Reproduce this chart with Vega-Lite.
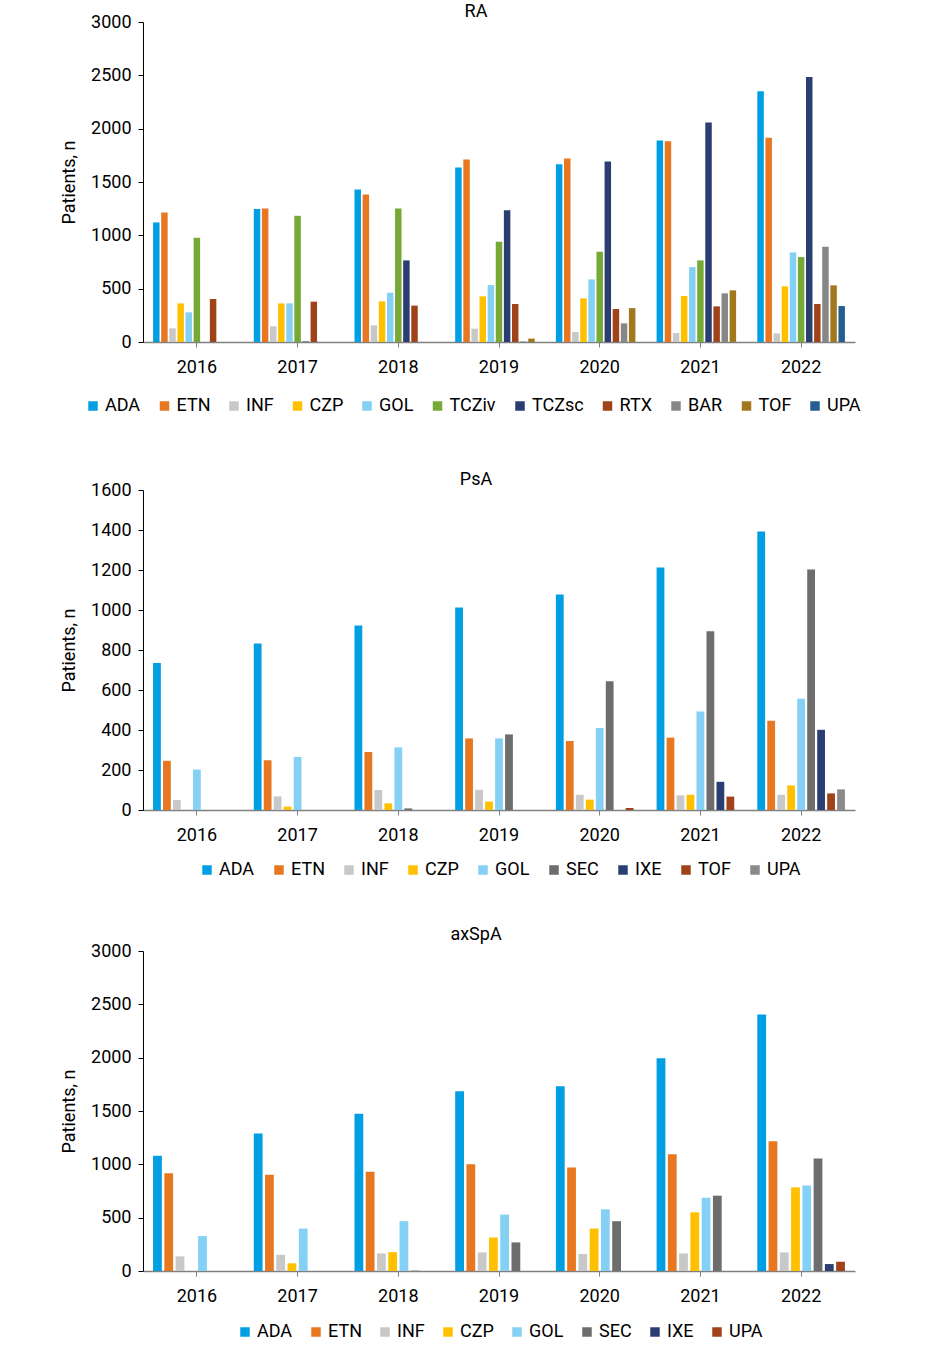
{
  "$schema": "https://vega.github.io/schema/vega-lite/v6.json",
  "background": "white",
  "padding": {"left": 60, "top": 3, "right": 5, "bottom": 5},
  "spacing": 148,
  "bounds": "flush",
  "config": {
    "font": "Roboto",
    "view": {"stroke": null},
    "axis": {"labelFont": "Roboto", "labelFontSize": 18, "labelColor": "#000", "titleFont": "Roboto", "titleFontSize": 18, "titleFontWeight": "normal", "titleColor": "#000", "grid": false},
    "axisX": {"domainColor": "#808080", "domainWidth": 1.5, "tickColor": "#808080", "tickSize": 5, "labelPadding": 11, "labelAngle": 0},
    "axisY": {"domainColor": "#000", "domainWidth": 1, "tickColor": "#000", "tickSize": 5, "labelPadding": 7, "titlePadding": 12, "format": "d"},
    "legend": {"labelFont": "Roboto", "labelFontSize": 18, "labelColor": "#000", "symbolType": "square", "symbolSize": 90, "symbolStrokeWidth": 0, "labelOffset": 3, "columnPadding": 15, "padding": 0, "direction": "horizontal"},
    "title": {"font": "Roboto", "fontSize": 18, "fontWeight": "normal", "color": "#000", "anchor": "middle", "frame": "group"}
  },
  "datasets": {
    "ra": [
      {"year": "2016", "drug": "ADA", "n": 1121}, {"year": "2016", "drug": "ETN", "n": 1215}, {"year": "2016", "drug": "INF", "n": 128}, {"year": "2016", "drug": "CZP", "n": 362}, {"year": "2016", "drug": "GOL", "n": 278}, {"year": "2016", "drug": "TCZiv", "n": 977}, {"year": "2016", "drug": "RTX", "n": 403},
      {"year": "2017", "drug": "ADA", "n": 1246}, {"year": "2017", "drug": "ETN", "n": 1252}, {"year": "2017", "drug": "INF", "n": 147}, {"year": "2017", "drug": "CZP", "n": 362}, {"year": "2017", "drug": "GOL", "n": 362}, {"year": "2017", "drug": "TCZiv", "n": 1183}, {"year": "2017", "drug": "TCZsc", "n": 5}, {"year": "2017", "drug": "RTX", "n": 378},
      {"year": "2018", "drug": "ADA", "n": 1430}, {"year": "2018", "drug": "ETN", "n": 1383}, {"year": "2018", "drug": "INF", "n": 156}, {"year": "2018", "drug": "CZP", "n": 381}, {"year": "2018", "drug": "GOL", "n": 462}, {"year": "2018", "drug": "TCZiv", "n": 1252}, {"year": "2018", "drug": "TCZsc", "n": 765}, {"year": "2018", "drug": "RTX", "n": 341},
      {"year": "2019", "drug": "ADA", "n": 1636}, {"year": "2019", "drug": "ETN", "n": 1711}, {"year": "2019", "drug": "INF", "n": 125}, {"year": "2019", "drug": "CZP", "n": 428}, {"year": "2019", "drug": "GOL", "n": 534}, {"year": "2019", "drug": "TCZiv", "n": 940}, {"year": "2019", "drug": "TCZsc", "n": 1236}, {"year": "2019", "drug": "RTX", "n": 356}, {"year": "2019", "drug": "BAR", "n": 5}, {"year": "2019", "drug": "TOF", "n": 32},
      {"year": "2020", "drug": "ADA", "n": 1667}, {"year": "2020", "drug": "ETN", "n": 1720}, {"year": "2020", "drug": "INF", "n": 94}, {"year": "2020", "drug": "CZP", "n": 409}, {"year": "2020", "drug": "GOL", "n": 587}, {"year": "2020", "drug": "TCZiv", "n": 846}, {"year": "2020", "drug": "TCZsc", "n": 1692}, {"year": "2020", "drug": "RTX", "n": 309}, {"year": "2020", "drug": "BAR", "n": 175}, {"year": "2020", "drug": "TOF", "n": 318},
      {"year": "2021", "drug": "ADA", "n": 1889}, {"year": "2021", "drug": "ETN", "n": 1882}, {"year": "2021", "drug": "INF", "n": 84}, {"year": "2021", "drug": "CZP", "n": 431}, {"year": "2021", "drug": "GOL", "n": 702}, {"year": "2021", "drug": "TCZiv", "n": 765}, {"year": "2021", "drug": "TCZsc", "n": 2057}, {"year": "2021", "drug": "RTX", "n": 334}, {"year": "2021", "drug": "BAR", "n": 456}, {"year": "2021", "drug": "TOF", "n": 484},
      {"year": "2022", "drug": "ADA", "n": 2350}, {"year": "2022", "drug": "ETN", "n": 1914}, {"year": "2022", "drug": "INF", "n": 81}, {"year": "2022", "drug": "CZP", "n": 522}, {"year": "2022", "drug": "GOL", "n": 840}, {"year": "2022", "drug": "TCZiv", "n": 796}, {"year": "2022", "drug": "TCZsc", "n": 2485}, {"year": "2022", "drug": "RTX", "n": 356}, {"year": "2022", "drug": "BAR", "n": 893}, {"year": "2022", "drug": "TOF", "n": 531}, {"year": "2022", "drug": "UPA", "n": 337}
    ],
    "psa": [
      {"year": "2016", "drug": "ADA", "n": 735}, {"year": "2016", "drug": "ETN", "n": 246}, {"year": "2016", "drug": "INF", "n": 50}, {"year": "2016", "drug": "GOL", "n": 202},
      {"year": "2017", "drug": "ADA", "n": 833}, {"year": "2017", "drug": "ETN", "n": 249}, {"year": "2017", "drug": "INF", "n": 68}, {"year": "2017", "drug": "CZP", "n": 17}, {"year": "2017", "drug": "GOL", "n": 265},
      {"year": "2018", "drug": "ADA", "n": 922}, {"year": "2018", "drug": "ETN", "n": 290}, {"year": "2018", "drug": "INF", "n": 100}, {"year": "2018", "drug": "CZP", "n": 33}, {"year": "2018", "drug": "GOL", "n": 313}, {"year": "2018", "drug": "SEC", "n": 8},
      {"year": "2019", "drug": "ADA", "n": 1013}, {"year": "2019", "drug": "ETN", "n": 358}, {"year": "2019", "drug": "INF", "n": 101}, {"year": "2019", "drug": "CZP", "n": 42}, {"year": "2019", "drug": "GOL", "n": 358}, {"year": "2019", "drug": "SEC", "n": 378},
      {"year": "2020", "drug": "ADA", "n": 1078}, {"year": "2020", "drug": "ETN", "n": 345}, {"year": "2020", "drug": "INF", "n": 76}, {"year": "2020", "drug": "CZP", "n": 52}, {"year": "2020", "drug": "GOL", "n": 410}, {"year": "2020", "drug": "SEC", "n": 644}, {"year": "2020", "drug": "TOF", "n": 10},
      {"year": "2021", "drug": "ADA", "n": 1212}, {"year": "2021", "drug": "ETN", "n": 362}, {"year": "2021", "drug": "INF", "n": 73}, {"year": "2021", "drug": "CZP", "n": 76}, {"year": "2021", "drug": "GOL", "n": 493}, {"year": "2021", "drug": "SEC", "n": 894}, {"year": "2021", "drug": "IXE", "n": 141}, {"year": "2021", "drug": "TOF", "n": 67},
      {"year": "2022", "drug": "ADA", "n": 1393}, {"year": "2022", "drug": "ETN", "n": 446}, {"year": "2022", "drug": "INF", "n": 76}, {"year": "2022", "drug": "CZP", "n": 123}, {"year": "2022", "drug": "GOL", "n": 556}, {"year": "2022", "drug": "SEC", "n": 1202}, {"year": "2022", "drug": "IXE", "n": 401}, {"year": "2022", "drug": "TOF", "n": 83}, {"year": "2022", "drug": "UPA", "n": 103}
    ],
    "axspa": [
      {"year": "2016", "drug": "ADA", "n": 1080}, {"year": "2016", "drug": "ETN", "n": 917}, {"year": "2016", "drug": "INF", "n": 137}, {"year": "2016", "drug": "GOL", "n": 327},
      {"year": "2017", "drug": "ADA", "n": 1288}, {"year": "2017", "drug": "ETN", "n": 902}, {"year": "2017", "drug": "INF", "n": 152}, {"year": "2017", "drug": "CZP", "n": 72}, {"year": "2017", "drug": "GOL", "n": 398},
      {"year": "2018", "drug": "ADA", "n": 1474}, {"year": "2018", "drug": "ETN", "n": 930}, {"year": "2018", "drug": "INF", "n": 165}, {"year": "2018", "drug": "CZP", "n": 177}, {"year": "2018", "drug": "GOL", "n": 467}, {"year": "2018", "drug": "SEC", "n": 3},
      {"year": "2019", "drug": "ADA", "n": 1685}, {"year": "2019", "drug": "ETN", "n": 1001}, {"year": "2019", "drug": "INF", "n": 174}, {"year": "2019", "drug": "CZP", "n": 314}, {"year": "2019", "drug": "GOL", "n": 529}, {"year": "2019", "drug": "SEC", "n": 268},
      {"year": "2020", "drug": "ADA", "n": 1733}, {"year": "2020", "drug": "ETN", "n": 970}, {"year": "2020", "drug": "INF", "n": 159}, {"year": "2020", "drug": "CZP", "n": 398}, {"year": "2020", "drug": "GOL", "n": 578}, {"year": "2020", "drug": "SEC", "n": 467},
      {"year": "2021", "drug": "ADA", "n": 1994}, {"year": "2021", "drug": "ETN", "n": 1095}, {"year": "2021", "drug": "INF", "n": 165}, {"year": "2021", "drug": "CZP", "n": 550}, {"year": "2021", "drug": "GOL", "n": 687}, {"year": "2021", "drug": "SEC", "n": 706},
      {"year": "2022", "drug": "ADA", "n": 2404}, {"year": "2022", "drug": "ETN", "n": 1216}, {"year": "2022", "drug": "INF", "n": 174}, {"year": "2022", "drug": "CZP", "n": 784}, {"year": "2022", "drug": "GOL", "n": 802}, {"year": "2022", "drug": "SEC", "n": 1054}, {"year": "2022", "drug": "IXE", "n": 65}, {"year": "2022", "drug": "UPA", "n": 87}
    ]
  },
  "resolve": {"scale": {"color": "independent", "xOffset": "independent", "y": "independent", "x": "independent"}, "legend": {"color": "independent"}},
  "vconcat": [
    {
      "data": {"name": "ra"},
      "title": {"text": "RA", "dx": -23, "offset": -8},
      "width": 712,
      "height": 320,
      "mark": {"type": "bar"},
      "encoding": {
        "x": {"field": "year", "type": "nominal", "title": null, "scale": {"paddingInner": 0.13, "paddingOuter": 0.1}},
        "xOffset": {"field": "drug", "type": "nominal", "scale": {"domain": ["ADA", "ETN", "INF", "CZP", "GOL", "TCZiv", "TCZsc", "RTX", "BAR", "TOF", "UPA"], "paddingInner": 0.2}},
        "y": {"field": "n", "type": "quantitative", "title": "Patients, n", "scale": {"domain": [0, 3000], "nice": false}, "axis": {"values": [0, 500, 1000, 1500, 2000, 2500, 3000]}},
        "color": {"field": "drug", "type": "nominal", "scale": {"domain": ["ADA", "ETN", "INF", "CZP", "GOL", "TCZiv", "TCZsc", "RTX", "BAR", "TOF", "UPA"], "range": ["#009FE3", "#E87722", "#C8C8C8", "#FFC000", "#85D0F5", "#76A935", "#2B3E72", "#A0431A", "#878787", "#A2781E", "#255E91"]}, "legend": {"title": null, "orient": "none", "legendX": -59, "legendY": 375, "columns": 11, "columnPadding": 14.5}}
      }
    },
    {
      "spacing": 141,
      "bounds": "flush",
      "resolve": {"scale": {"color": "independent", "xOffset": "independent", "y": "independent", "x": "independent"}, "legend": {"color": "independent"}},
      "vconcat": [
        {
          "data": {"name": "psa"},
          "title": {"text": "PsA", "dx": -23, "offset": -8},
          "width": 712,
          "height": 320,
          "mark": {"type": "bar"},
          "encoding": {
            "x": {"field": "year", "type": "nominal", "title": null, "scale": {"paddingInner": 0.13, "paddingOuter": 0.1}},
            "xOffset": {"field": "drug", "type": "nominal", "scale": {"domain": ["ADA", "ETN", "INF", "CZP", "GOL", "SEC", "IXE", "TOF", "UPA"], "paddingInner": 0.22}},
            "y": {"field": "n", "type": "quantitative", "title": "Patients, n", "scale": {"domain": [0, 1600], "nice": false}, "axis": {"values": [0, 200, 400, 600, 800, 1000, 1200, 1400, 1600]}},
            "color": {"field": "drug", "type": "nominal", "scale": {"domain": ["ADA", "ETN", "INF", "CZP", "GOL", "SEC", "IXE", "TOF", "UPA"], "range": ["#009FE3", "#E87722", "#C8C8C8", "#FFC000", "#85D0F5", "#6D6D6D", "#2B3E72", "#A0431A", "#8A8A8A"]}, "legend": {"title": null, "orient": "none", "legendX": 55, "legendY": 371, "columns": 9}}
          }
        },
        {
          "data": {"name": "axspa"},
          "title": {"text": "axSpA", "dx": -23, "offset": -2},
          "width": 712,
          "height": 320,
          "mark": {"type": "bar"},
          "encoding": {
            "x": {"field": "year", "type": "nominal", "title": null, "scale": {"paddingInner": 0.13, "paddingOuter": 0.1}},
            "xOffset": {"field": "drug", "type": "nominal", "scale": {"domain": ["ADA", "ETN", "INF", "CZP", "GOL", "SEC", "IXE", "UPA"], "paddingInner": 0.22}},
            "y": {"field": "n", "type": "quantitative", "title": "Patients, n", "scale": {"domain": [0, 3000], "nice": false}, "axis": {"values": [0, 500, 1000, 1500, 2000, 2500, 3000]}},
            "color": {"field": "drug", "type": "nominal", "scale": {"domain": ["ADA", "ETN", "INF", "CZP", "GOL", "SEC", "IXE", "UPA"], "range": ["#009FE3", "#E87722", "#C8C8C8", "#FFC000", "#85D0F5", "#6D6D6D", "#2B3E72", "#A0431A"]}, "legend": {"title": null, "orient": "none", "legendX": 93, "legendY": 372, "columns": 8, "columnPadding": 14}}
          }
        }
      ]
    }
  ]
}
